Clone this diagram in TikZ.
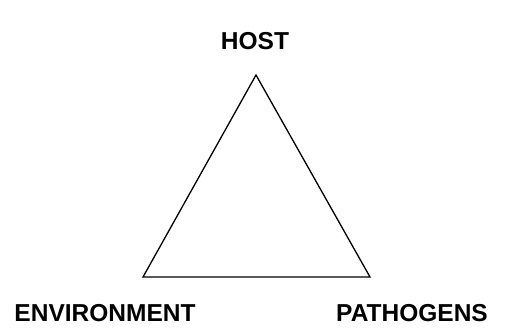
\documentclass[tikz,border=0pt]{standalone}
\usepackage{fontspec}
\setmainfont{Liberation Sans}
\begin{document}
\begin{tikzpicture}[x=1pt,y=-1pt,
  lbl/.style={font=\fontsize{24.5}{28}\selectfont\bfseries, inner sep=0pt, anchor=base},
  edge/.style={line width=1.3pt, line join=miter}]
\useasboundingbox (0,0) rectangle (514,333);
\coordinate (top) at (256,75);
\coordinate (bl) at (143,277);
\coordinate (br) at (370,277);
\draw[edge] (top) -- (bl) -- (br) -- cycle;
\node[lbl] (host) at (255,49.5) {HOST};
\node[lbl] (env) at (105,321) {ENVIRONMENT};
\node[lbl] (path) at (412,321) {PATHOGENS};
\end{tikzpicture}
\end{document}
